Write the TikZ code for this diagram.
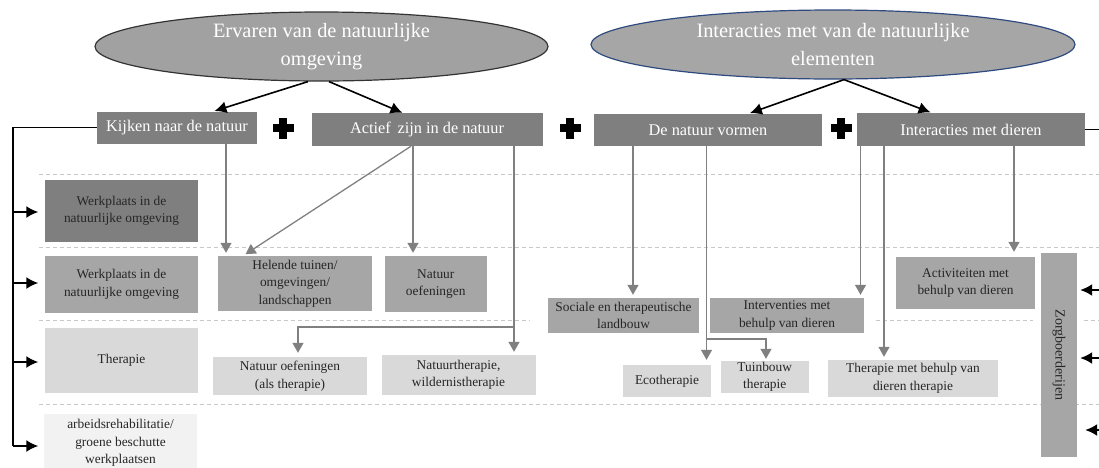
\documentclass[tikz,border=0pt]{standalone}
\usepackage{fontspec}
\setmainfont{Liberation Serif}
\usetikzlibrary{shapes.geometric,arrows.meta}

\definecolor{boxdark}{HTML}{7F7F7F}
\definecolor{boxmid}{HTML}{A6A6A6}
\definecolor{boxlight}{HTML}{D9D9D9}
\definecolor{boxpale}{HTML}{F2F2F2}
\definecolor{txtdark}{HTML}{262626}
\definecolor{linegray}{HTML}{808080}
\definecolor{sepgray}{HTML}{C8C8C8}
\definecolor{ovalblue}{HTML}{2F4A7F}

\begin{document}
\begin{tikzpicture}[x=1pt,y=-1pt,
  oval/.style={ellipse,fill=boxmid,line width=1.2pt,text=white,align=center,inner sep=0pt,
    font=\fontsize{20.4}{28}\selectfont},
  topbox/.style={fill=boxdark,text=white,inner sep=0pt,font=\fontsize{16.3}{19}\selectfont},
  cell/.style={text=txtdark,align=center,inner sep=0pt,font=\fontsize{13.4}{17.5}\selectfont},
  cellA/.style={cell,fill=boxdark},
  cellB/.style={cell,fill=boxmid},
  cellC/.style={cell,fill=boxlight},
  cellD/.style={cell,fill=boxpale},
  sep/.style={sepgray,line width=0.8pt,dash pattern=on 4pt off 3pt},
  garrow/.style={linegray,line width=1.3pt,-{Triangle[length=10pt,width=11pt]}},
  barrow/.style={black,line width=1.8pt,-{Latex[length=12pt,width=12pt]}},
  bline/.style={black,line width=1.8pt}]
\useasboundingbox (0,0) rectangle (1099,467);

% row separators
\draw[sep] (38.5,174) -- (1099,174);
\draw[sep] (38.5,247) -- (1099,247);
\draw[sep] (38.5,320) -- (530,320);
\draw[sep] (875.5,320) -- (1033,320);
\draw[sep] (1084,320) -- (1099,320);
\draw[sep] (38.5,404) -- (1099,404);

% ovals
\node[oval,fill=black!37,draw=black!80,minimum width=453pt,minimum height=69pt] (ervaren) at (321.5,46.5)
  {Ervaren van de natuurlijke\\omgeving};
\node[oval,draw=ovalblue,minimum width=484pt,minimum height=69pt] (interact) at (833,44.5)
  {Interacties met van de natuurlijke\\elementen};

% top boxes
\node[topbox,minimum width=160pt,minimum height=32pt] (kijk) at (177,127.5) {Kijken naar de natuur};
\node[topbox,minimum width=231pt,minimum height=33pt] (actief) at (427,129.5) {Actief\, zijn in de natuur};
\node[topbox,minimum width=228pt,minimum height=32pt] (vorm) at (708,130) {De natuur vormen};
\node[topbox,minimum width=228pt,minimum height=33pt] (dier) at (971,129.5) {Interacties met dieren};

% plus signs
\foreach \px in {283,570,841} {
  \fill (\px-10.5,124) rectangle (\px+10.5,132);
  \fill (\px-4,117.5) rectangle (\px+4,138.5);
}

% left column
\node[cellA,minimum width=153pt,minimum height=62pt] (werkA) at (121.5,211) {Werkplaats in de\\natuurlijke omgeving};
\node[cellB,minimum width=153pt,minimum height=57pt] (werkB) at (121.5,284.5) {Werkplaats in de\\natuurlijke omgeving};
\node[cellC,minimum width=153pt,minimum height=65pt] (ther) at (121.5,360.5) {Therapie};
\node[cellD,minimum width=153pt,minimum height=58pt] (arbeid) at (120.5,443) {arbeidsrehabilitatie/\\groene beschutte\\werkplaatsen};

% middle boxes
\node[cellB,minimum width=154pt,minimum height=55pt] (helend) at (295,283.5) {Helende tuinen/\\omgevingen/\\landschappen};
\node[cellB,minimum width=101.5pt,minimum height=56pt] (oefen) at (435.75,284) {Natuur\\oefeningen};
\node[cellC,minimum width=154.5pt,minimum height=38pt] (oefther) at (290,376) {Natuur oefeningen\\(als therapie)};
\node[cellC,minimum width=154pt,minimum height=40pt] (natther) at (458.5,375) {Natuurtherapie,\\wildernistherapie};
\node[cellB,minimum width=151pt,minimum height=35pt] (landb) at (623.5,315.5) {Sociale en therapeutische\\landbouw};
\node[cellB,minimum width=154pt,minimum height=35pt] (interv) at (787,315.5) {Interventies met\\behulp van dieren};
\node[cellB,minimum width=139pt,minimum height=52pt] (activ) at (965.5,283) {Activiteiten met\\behulp van dieren};
\node[cellC,minimum width=88pt,minimum height=32pt] (eco) at (667,381) {Ecotherapie};
\node[cellC,minimum width=88.5pt,minimum height=32pt] (tuinb) at (764.75,377) {Tuinbouw\\therapie};
\node[cellC,minimum width=170pt,minimum height=37pt] (dierther) at (913,378.5) {Therapie met behulp van\\dieren therapie};
\node[cellB,minimum width=36pt,minimum height=204pt] (zorg) at (1059,355) {};
\node[cell,rotate=-90,font=\fontsize{14}{17}\selectfont] (zorgtxt) at (zorg.center) {Zorgboerderijen};

% arrows from the ovals
\draw[barrow,line width=1.6pt,shorten >=1pt] ([xshift=-13.5pt]ervaren.south) -- (213.5,0 |- kijk.north);
\draw[barrow,line width=1.6pt,shorten >=0pt] ([xshift=7.5pt]ervaren.south) -- (402.5,0 |- actief.north);
\draw[barrow,line width=1.6pt,shorten >=2pt] ([xshift=11pt]interact.south) -- (748,0 |- vorm.north);
\draw[barrow,line width=1.6pt,shorten >=1pt] ([xshift=11pt]interact.south) -- (931.5,0 |- dier.north);

% gray connectors
\draw[garrow,shorten >=3pt] (226,0 |- kijk.south) -- (226,0 |- helend.north);
\draw[garrow,shorten >=3pt] (411,0 |- actief.south) -- (243,0 |- helend.north);
\draw[garrow,shorten >=3pt] (413,0 |- actief.south) -- (413,0 |- oefen.north);
\draw[garrow,shorten >=3pt] (514,0 |- actief.south) -- (514,0 |- natther.north);
\coordinate (splitA) at (514,327);
\draw[garrow,shorten >=4pt] (splitA) -- (298,0 |- splitA) -- (298,0 |- oefther.north);
\draw[garrow,shorten >=3pt] (633,0 |- vorm.south) -- (633,0 |- landb.north);
\draw[garrow,shorten >=5pt] (706.5,0 |- vorm.south) -- (706.5,0 |- eco.north);
\coordinate (splitB) at (706.5,339);
\draw[garrow,shorten >=2pt] (splitB) -- (766,0 |- splitB) -- (766,0 |- tuinb.north);
\draw[garrow,shorten >=3pt] (860.5,0 |- dier.south) -- (860.5,0 |- interv.north);
\draw[garrow,shorten >=3pt] (884,0 |- dier.south) -- (884,0 |- dierther.north);
\draw[garrow,shorten >=5pt] (1014,0 |- dier.south) -- (1014,0 |- activ.north);

% left bracket
\coordinate (lbus) at (13,446);
\draw[bline] (kijk.west) -- (13,0 |- kijk.west) -- (lbus);
\draw[barrow,shorten >=6.5pt] (13,212) -- (werkA.west |- 0,212);
\draw[barrow,shorten >=6.5pt] (13,283) -- (werkB.west |- 0,283);
\draw[barrow,shorten >=6.5pt] (13,362) -- (ther.west |- 0,362);
\draw[barrow,shorten >=5.5pt] (lbus) -- (arbeid.west |- lbus);

% right bracket
\coordinate (rbus) at (1106,440);
\draw[bline] (dier.east) -- (1106,0 |- dier.east) -- (rbus);
\draw[barrow,shorten >=3pt] (1106,290) -- (zorg.east |- 0,290);
\draw[barrow,shorten >=3pt] (1106,358) -- (zorg.east |- 0,358);
\draw[barrow,shorten >=8pt] (1106,430) -- (zorg.east |- 0,430);
\end{tikzpicture}
\end{document}
